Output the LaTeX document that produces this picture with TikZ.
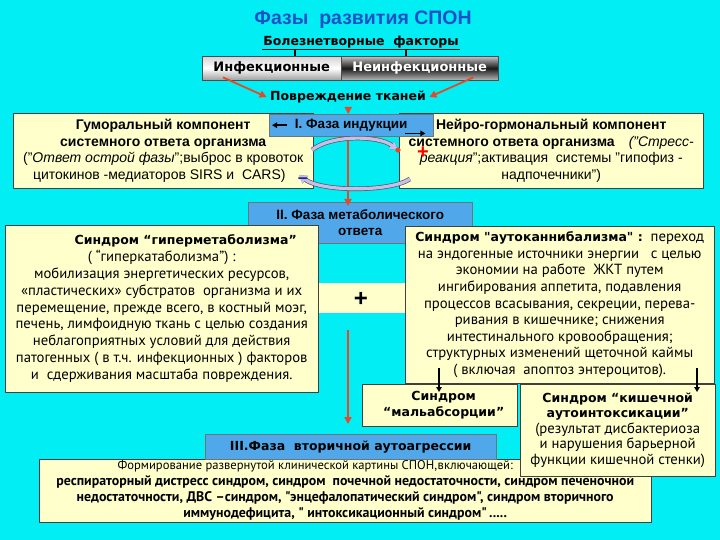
\documentclass[tikz,border=0pt]{standalone}
\usepackage{fontspec}
\setmainfont{Liberation Sans}
\newfontfamily\tahoma{PT Sans}
\newfontfamily\verdana{DejaVu Sans}
\usetikzlibrary{arrows.meta}

\definecolor{bgcyan}{RGB}{0,238,244}
\definecolor{boxyel}{RGB}{255,255,204}
\definecolor{boxblue}{RGB}{80,168,235}
\definecolor{titleblue}{RGB}{30,80,200}
\definecolor{arrred}{RGB}{232,72,40}
\definecolor{lavend}{RGB}{200,190,236}
\definecolor{minusblue}{RGB}{30,40,140}

\begin{document}
\begin{tikzpicture}[x=1pt,y=-1pt,
    yelbox/.style={draw=black!75,fill=boxyel,inner sep=0pt,anchor=north west,align=center},
    bluebox/.style={draw=black!55,fill=boxblue,inner sep=0pt,anchor=north west,align=center},
    redarr/.style={draw=arrred,line width=1.8pt,-{Triangle[length=7pt,width=7pt]}},
    blkarr/.style={line width=1.4pt,-{Triangle[length=5pt,width=5.5pt]}},
    curvarr/.style={draw=lavend,line width=3.2pt,-{Triangle[length=8pt,width=9pt]},
      preaction={draw=black!65,line width=4.6pt}},
    vbold/.style={font=\verdana\bfseries\fontsize{12.5}{15}\selectfont},
    body/.style={font=\tahoma\fontsize{14.7}{16.8}\selectfont}]
  \fill[bgcyan] (0,0) rectangle (720,540);

  % top part
  \node[font=\bfseries\fontsize{19.5}{21}\selectfont,text=titleblue] (title) at (363,20) {Фазы\ \ развития СПОН};
  \node[vbold,inner sep=1pt] (factors) at (361,42) {Болезнетворные\ \ факторы};
  \draw[line width=1.2pt] (factors.south west) -- (factors.south east);
  \coordinate (tickL) at (295,0);
  \coordinate (tickR) at (406,0);
  \node[draw=black!70,inner sep=0pt,minimum width=139,minimum height=24,anchor=north west,
    top color=gray!35,bottom color=gray!75,middle color=white,
    font=\verdana\bfseries\fontsize{13}{15}\selectfont] (infect) at (202,56) {Инфекционные};
  \node[draw=black!70,inner sep=0pt,minimum width=157,minimum height=24,anchor=north west,
    top color=gray!45,bottom color=gray!55,middle color=black!90,text=white,
    font=\verdana\bfseries\fontsize{13}{15}\selectfont] (noninf) at (341,56) {Неинфекционные};
  \draw[line width=1.2pt] (factors.south -| tickL) -- (infect.north -| tickL);
  \draw[line width=1.2pt] (factors.south -| tickR) -- (noninf.north -| tickR);
  \node[vbold] (damage) at (348,97) {Повреждение тканей};
  \draw[redarr] ([shift={(21,-3)}]infect.south west) -- (damage.west);
  \draw[redarr] ([shift={(-25,-3)}]noninf.south east) -- (damage.east);

  % phase I
  \node[yelbox,minimum width=300,minimum height=75,font=\fontsize{14}{16.7}\selectfont] (humor) at (13,113)
    {\textbf{Гуморальный компонент}\\ \textbf{системного ответа организма}\\
     ("\textit{Ответ острой фазы}";выброс в кровоток\\ цитокинов -медиаторов SIRS и\ \ CARS)\ \ \ };
  \node[yelbox,minimum width=304,minimum height=75,font=\fontsize{14}{16.7}\selectfont] (neuro) at (399,113)
    {\textbf{Нейро-гормональный компонент}\\ \textbf{системного ответа организма}\quad\textit{("Стресс-}\\
     \textit{реакция}";активация\ \ системы "гипофиз -\\ надпочечники")};
  \node[bluebox,minimum width=164,minimum height=22,font=\bfseries\fontsize{13.5}{15}\selectfont] (phase1) at (269,114) {I. Фаза индукции};
  \draw[blkarr] ([xshift=18]phase1.west) -- ([xshift=3]phase1.west);
  \draw[blkarr] ([shift={(-28,-3)}]phase1.south east) -- ([shift={(-8,-3)}]phase1.south east);
  \draw[redarr] (damage.south -| phase1.north) ++(-3,0) -- ([xshift=-3]phase1.north);

  % feedback loop
  \coordinate (rx) at (348,0);
  \node[bluebox,minimum width=224,minimum height=41,font=\bfseries\fontsize{13.5}{15.5}\selectfont] (phase2) at (248,202) {II. Фаза метаболического\\ ответа};
  \draw[redarr] (phase1.south -| rx) -- ([yshift=-4]phase2.north -| rx);
  \coordinate (up1) at (312,150);
  \coordinate (up2) at (398,150);
  \coordinate (lo1) at (410,179);
  \coordinate (lo2) at (299,175);
  \draw[curvarr] (up1) .. controls (330,135) and (378,135) .. (up2);
  \draw[curvarr] (lo1) .. controls (390,192) and (322,192) .. (lo2);
  \fill[arrred] (up2) circle (2.6);
  \node[text=red,font=\bfseries\fontsize{20}{20}\selectfont] (plus1) at (423,153) {+};
  \node[text=minusblue,font=\bfseries\fontsize{18}{18}\selectfont] (minus1) at (303,181) {\textendash};

  % phase II syndromes
  \fill[boxyel] (318,283) rectangle (405,313);
  \node[font=\bfseries\fontsize{24}{24}\selectfont] (plus2) at (361,299) {+};
  \node[yelbox,minimum width=313,minimum height=167,body] (hyper) at (5,225)
    {\hspace*{48pt}{\verdana\bfseries\fontsize{12.5}{15}\selectfont Синдром “гиперметаболизма”}\\
     ( “гиперкатаболизма”) :\\
     мобилизация энергетических ресурсов,\\
     «пластических» субстратов\ \ организма и их\\
     перемещение, прежде всего, в костный моэг,\\
     печень, лимфоидную ткань с целью создания\\
     неблагоприятных условий для действия\\
     патогенных ( в т.ч. инфекционных ) факторов\\
     и\ \ сдерживания масштаба повреждения.};
  \node[yelbox,minimum width=309,minimum height=157,body,font=\tahoma\fontsize{14.7}{16.6}\selectfont] (autocan) at (405,226)
    {{\verdana\bfseries\fontsize{12.5}{15}\selectfont Синдром "аутоканнибализма" :}\ \ переход\\
     на эндогенные источники энергии\ \ \ с целью\\
     экономии на работе\ \ ЖКТ путем\\
     ингибирования аппетита, подавления\\
     процессов всасывания, секреции, перева-\\
     ривания в кишечнике; снижения\\
     интестинального кровообращения;\\
     структурных изменений щеточной каймы\\
     ( включая\ \ апоптоз энтероцитов).};
  \coordinate (r3) at (348,330);

  % phase III
  \node[yelbox,minimum width=612,minimum height=63,font=\tahoma\fontsize{13.9}{16}\selectfont] (clinic) at (39,459)
    {{\fontsize{12.6}{14}\selectfont Формирование развернутой клинической картины СПОН,включающей:}\hspace*{60pt}\\
     \textbf{респираторный дистресс синдром, синдром\ \ почечной недостаточности, синдром печеночной}\\
     \textbf{недостаточности, ДВС –синдром, "энцефалопатический синдром", синдром вторичного}\\
     \textbf{иммунодефицита, " интоксикационный синдром"\,.....}};
  \node[bluebox,minimum width=291,minimum height=25,vbold] (phase3) at (205,434) {III.Фаза\ \ вторичной аутоагрессии};
  \draw[redarr] (r3) -- ([yshift=10]phase3.north -| r3);
  \node[yelbox,minimum width=155,minimum height=42,font=\verdana\bfseries\fontsize{12.5}{16}\selectfont] (malab) at (362,384)
    {\hspace*{8pt}Синдром\\ \hspace*{8pt}“мальабсорции”};
  \node[yelbox,minimum width=195,minimum height=92,font=\tahoma\fontsize{14.7}{15.6}\selectfont] (kish) at (520,384)
    {{\verdana\bfseries\fontsize{12.5}{15}\selectfont Синдром “кишечной}\\
     {\verdana\bfseries\fontsize{12.5}{15}\selectfont аутоинтоксикации”}\\
     (результат дисбактериоза\\ и нарушения барьерной\\ функции кишечной стенки)};
  \coordinate (d1) at (439,368);
  \coordinate (d2) at (697,368);
  \draw[blkarr] (d1) -- ([yshift=-8]d1 |- malab.north);
  \draw[blkarr] (d2) -- ([yshift=-8]d2 |- kish.north);
\end{tikzpicture}
\end{document}
